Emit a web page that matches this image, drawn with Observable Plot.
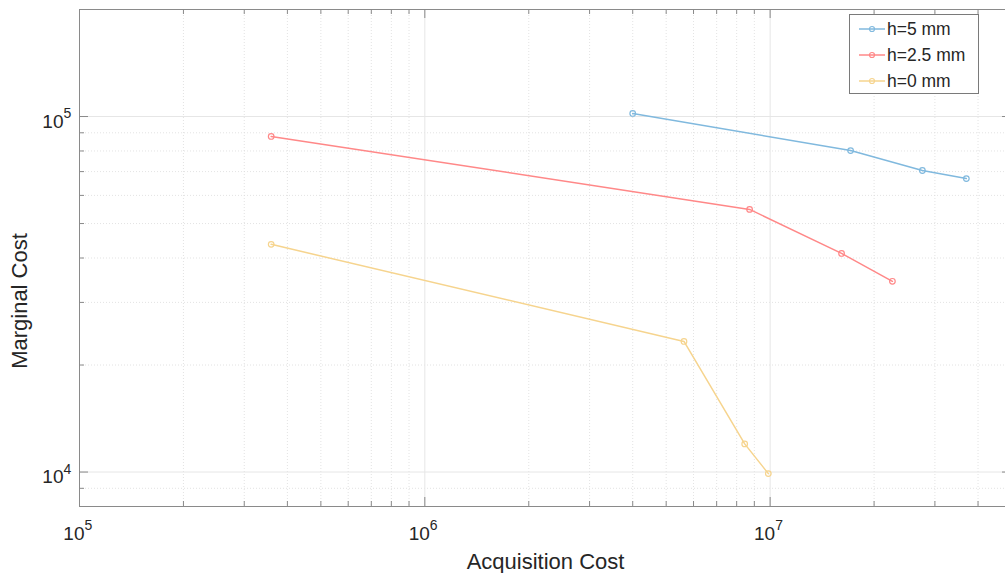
<!DOCTYPE html>
<html><head><meta charset="utf-8">
<script src="https://cdn.jsdelivr.net/npm/d3@7"></script>
<script src="https://cdn.jsdelivr.net/npm/@observablehq/plot@0.6"></script>
<style>
body{margin:0;background:#fff;overflow:hidden;font-family:"Liberation Sans",Arial,Helvetica,sans-serif;}
#wrap{position:relative;width:1005px;height:573px;overflow:hidden;}
#legend{position:absolute;left:849px;top:14px;width:128px;height:78px;border:1px solid #7a7a7a;background:#fff;}
.item{position:absolute;left:0;height:22px;display:flex;align-items:center;font-size:17.5px;color:#262626;white-space:nowrap;}
.item svg{display:block;}
#ylabel{position:absolute;left:20px;top:301px;transform:translate(-50%,-50%) rotate(-90deg);font-size:22px;color:#262626;white-space:nowrap;line-height:1;}
</style></head><body><div id="wrap"></div>
<script>
// ---- data ----
const seriesNames = ["h=5 mm", "h=2.5 mm", "h=0 mm"];
const seriesColors = ["#80b9de", "#ff8888", "#f6d48e"];
const acq5  = [4.0e6, 1.71e7, 2.76e7, 3.70e7];
const marg5 = [1.02e5, 8.02e4, 7.05e4, 6.69e4];
const acq25  = [3.59e5, 8.72e6, 1.61e7, 2.26e7];
const marg25 = [8.79e4, 5.48e4, 4.12e4, 3.44e4];
const acq0  = [3.59e5, 5.63e6, 8.44e6, 9.88e6];
const marg0 = [4.37e4, 2.33e4, 1.20e4, 9.9e3];

const xMajor = [1e5, 1e6, 1e7];
const xTickExp = ["5", "6", "7"];
const xMinor = [2e5,3e5,4e5,5e5,6e5,7e5,8e5,9e5, 2e6,3e6,4e6,5e6,6e6,7e6,8e6,9e6, 2e7,3e7,4e7];
const yMajor = [1e4, 1e5];
const yTickExp = ["4", "5"];
const yMinor = [9e3, 2e4,3e4,4e4,5e4,6e4,7e4,8e4,9e4];

const xLabel = "Acquisition Cost";
const yLabel = "Marginal Cost";

// ---- build table ----
const acqs = [acq5, acq25, acq0];
const margs = [marg5, marg25, marg0];
const rows = [];
seriesNames.forEach((name, i) => acqs[i].forEach((x, j) => rows.push({series: name, x, y: margs[i][j]})));

const W = 1005, H = 573;
const mL = 79, mR = -6, mT = 9, mB = 67;
const fw = W - mL - mR, fh = H - mT - mB;
const axisColor = "#8a8a8a";
const txt = "#262626";
const font = "Liberation Sans, Arial, Helvetica, sans-serif";
const majT = 9, minT = 5;

const chart = Plot.plot({
  width: W, height: H,
  marginLeft: mL, marginRight: mR, marginTop: mT, marginBottom: mB,
  style: {fontFamily: font, background: "white", overflow: "visible"},
  x: {type: "log", domain: [1e5, 5e7], axis: null},
  y: {type: "log", domain: [8000, 2e5], axis: null},
  color: {domain: seriesNames, range: seriesColors},
  marks: [
    Plot.ruleX(xMinor, {stroke: "#dcdcdc", strokeDasharray: "1,2", strokeWidth: 0.8}),
    Plot.ruleY(yMinor, {stroke: "#dcdcdc", strokeDasharray: "1,2", strokeWidth: 0.8}),
    Plot.ruleX(xMajor, {stroke: "#e6e6e6", strokeWidth: 1}),
    Plot.ruleY(yMajor, {stroke: "#e6e6e6", strokeWidth: 1}),
    Plot.line(rows, {x: "x", y: "y", z: "series", stroke: "series", strokeWidth: 1.5}),
    Plot.dot(rows, {x: "x", y: "y", stroke: "series", r: 2.8, strokeWidth: 1.2, fill: "none"}),
    Plot.frame({stroke: axisColor, strokeWidth: 1}),
    // inward ticks
    Plot.tickX(xMajor, {x: d => d, insetTop: fh - majT, stroke: axisColor}),
    Plot.tickX(xMajor, {x: d => d, insetBottom: fh - majT, stroke: axisColor}),
    Plot.tickX(xMinor, {x: d => d, insetTop: fh - minT, stroke: axisColor}),
    Plot.tickX(xMinor, {x: d => d, insetBottom: fh - minT, stroke: axisColor}),
    Plot.tickY(yMajor, {y: d => d, insetRight: fw - majT, stroke: axisColor}),
    Plot.tickY(yMajor, {y: d => d, insetLeft: fw - majT, stroke: axisColor}),
    Plot.tickY(yMinor, {y: d => d, insetRight: fw - minT, stroke: axisColor}),
    Plot.tickY(yMinor, {y: d => d, insetLeft: fw - minT, stroke: axisColor}),
    // x tick labels
    Plot.text(xMajor, {x: d => d, text: () => "10", frameAnchor: "bottom", textAnchor: "end", lineAnchor: "bottom", dx: 5, dy: 33, fontSize: 19, fill: txt, fontFamily: font}),
    Plot.text(xMajor, {x: d => d, text: (d, i) => xTickExp[i], frameAnchor: "bottom", textAnchor: "start", lineAnchor: "bottom", dx: 5, dy: 23, fontSize: 14, fill: txt, fontFamily: font}),
    // y tick labels
    Plot.text(yMajor, {y: d => d, text: () => "10", frameAnchor: "left", textAnchor: "end", lineAnchor: "bottom", dx: -16, dy: 11, fontSize: 19, fill: txt, fontFamily: font}),
    Plot.text(yMajor, {y: d => d, text: (d, i) => yTickExp[i], frameAnchor: "left", textAnchor: "start", lineAnchor: "bottom", dx: -16, dy: 1.5, fontSize: 14, fill: txt, fontFamily: font}),
    // x axis title
    Plot.text([xLabel], {text: d => d, frameAnchor: "bottom", lineAnchor: "bottom", dy: 62, fontSize: 22, fill: txt, fontFamily: font})
  ]
});

const wrap = document.getElementById("wrap");
wrap.appendChild(chart);

// y axis title
const yl = document.createElement("div");
yl.id = "ylabel";
yl.textContent = yLabel;
wrap.appendChild(yl);

// legend
const legend = document.createElement("div");
legend.id = "legend";
seriesNames.forEach((name, i) => {
  const item = document.createElement("div");
  item.className = "item";
  item.style.top = (3 + i * 26) + "px";
  const c = seriesColors[i];
  item.innerHTML = `<svg width="37" height="22"><line x1="9" x2="35" y1="11" y2="11" stroke="${c}" stroke-width="1.5"/><circle cx="22" cy="11" r="2.5" fill="none" stroke="${c}" stroke-width="1.2"/></svg><span>${name}</span>`;
  legend.appendChild(item);
});
wrap.appendChild(legend);
</script>
</body></html>
